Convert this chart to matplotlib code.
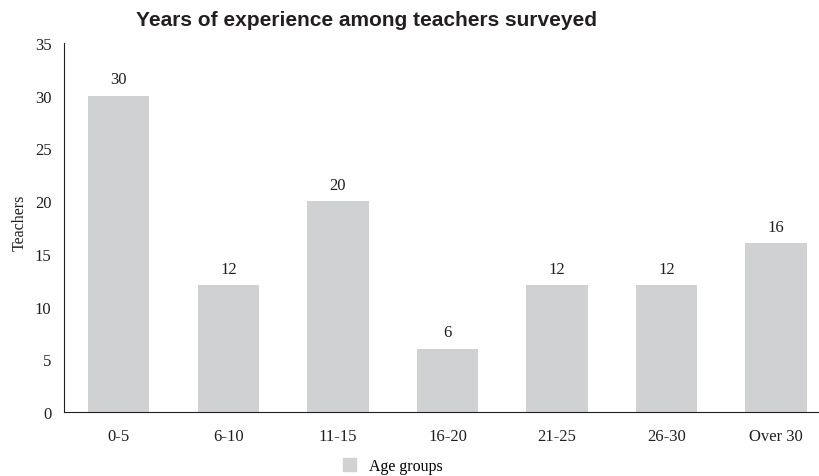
import numpy as np
import matplotlib.pyplot as plt
from matplotlib.patches import Patch

# Datos
grupos   = ['0-5', '6-10', '11-15', '16-20', '21-25', '26-30', 'Over 30']
docentes = [30, 12, 20, 6, 12, 12, 16]

color_barra = '#d0d1d3'
color_texto = '#231f20'
serif = 'Liberation Serif'

#%%
fig = plt.figure(figsize=(8.2, 4.77), dpi=100)
ax  = fig.add_axes([0.078, 0.134, 0.922, 0.774])

x = np.arange(len(grupos))
ax.bar(x, docentes, width=0.56, color=color_barra, label='Age groups')

for xi, v in zip(x, docentes):
    ax.text(xi, v + 0.8, str(v), ha='center', va='bottom',
            family=serif, fontsize=12, color=color_texto)

ax.set_xlim(-0.5, 6.4)
ax.set_ylim(0, 35)
ax.set_xticks(x)
ax.set_xticklabels(grupos)
ax.set_yticks(np.arange(0, 36, 5))

for lab in ax.get_xticklabels() + ax.get_yticklabels():
    lab.set_family(serif)
    lab.set_fontsize(12)
    lab.set_color(color_texto)

ax.tick_params(length=0)
ax.tick_params(axis='x', pad=11.5)
ax.tick_params(axis='y', pad=9)

ax.spines['top'].set_visible(False)
ax.spines['right'].set_visible(False)
ax.spines['left'].set_color(color_texto)
ax.spines['bottom'].set_color(color_texto)

fig.text(20 / 820, 1 - 223 / 477, 'Teachers', rotation=90, ha='center', va='center',
         family=serif, fontsize=11.5, color=color_texto)

fig.text(367 / 820, 1 - 20 / 477, 'Years of experience among teachers surveyed',
         ha='center', va='center', family='Liberation Sans', fontweight='bold',
         fontsize=15, color=color_texto)

fig.legend(handles=[Patch(color=color_barra, label='Age groups')],
           loc='center', bbox_to_anchor=(393 / 820, 1 - 467 / 477),
           frameon=False, prop={'family': serif, 'size': 11.5},
           handlelength=0.8, handleheight=0.8, handletextpad=0.8)

fig.savefig('out.png', dpi=100)
